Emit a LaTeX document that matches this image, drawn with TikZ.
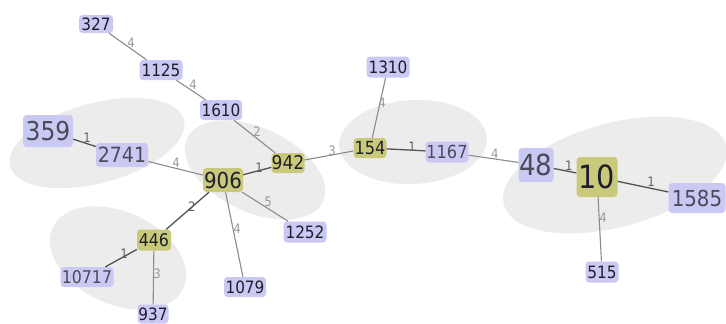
\documentclass[tikz,border=0pt]{standalone}
\usepackage{fontspec}
\setmainfont{DejaVu Sans Condensed}
\usetikzlibrary{calc}
\definecolor{lav}{HTML}{C9C9F3}
\definecolor{olv}{HTML}{C9C97C}
\definecolor{ellg}{HTML}{ECECEC}
\definecolor{txtd}{HTML}{1E1E2C}
\definecolor{txtg}{HTML}{4A4A58}
\tikzset{
  nd/.style n args={3}{font=\fontsize{#1pt}{#1pt}\selectfont, minimum width=#2pt, minimum height=#3pt,
     inner sep=0pt, text height={0.729*#1pt}, text depth=0pt, rounded corners=3.5pt, align=center},
  blue/.style={fill=lav, text=txtd},
  blueg/.style={fill=lav, text=txtg},
  olive/.style={fill=olv, text=txtd},
  edge/.style={draw=black!45, line width=1.1pt},
  edged/.style={draw=black!68, line width=1.3pt},
  lbl/.style={font=\fontsize{13pt}{13pt}\selectfont, text=black!40, inner sep=0pt},
  lbld/.style={font=\fontsize{13pt}{13pt}\selectfont, text=black!62, inner sep=0pt},
  ell/.style={fill=ellg}
}
\begin{document}
\begin{tikzpicture}[x=1pt,y=-1pt]
\useasboundingbox (0,0) rectangle (726,324);
\clip (0,0) rectangle (726,324);
\fill[white] (0,0) rectangle (726,324);
% groups
\fill[ell, rotate around={15:(97,143)}] (97,143) ellipse [x radius=90, y radius=40];
\fill[ell, rotate around={-25:(255,170)}] (255,170) ellipse [x radius=75, y radius=42];
\fill[ell, rotate around={-25:(118,258)}] (118,258) ellipse [x radius=72, y radius=46];
\fill[ell, rotate around={3:(413,142)}] (413,142) ellipse [x radius=74, y radius=42];
\fill[ell, rotate around={15:(615,175)}] (615,175) ellipse [x radius=115, y radius=52];
% nodes
\node[blue, nd={17}{34}{18}] (n327) at (96,24) {327};
\node[blue, nd={17}{43}{20}] (n1125) at (161,70) {1125};
\node[blue, nd={17}{42}{20}] (n1610) at (221,110) {1610};
\node[blueg, nd={26}{50}{32}] (n359) at (48,131) {359};
\node[blueg, nd={21}{52}{24}] (n2741) at (122,155) {2741};
\node[olive, nd={22}{40}{24}] (n906) at (223,180) {906};
\node[olive, nd={19}{33}{20}] (n942) at (288,163) {942};
\node[olive, nd={18}{33}{20}] (n154) at (370,148) {154};
\node[blue, nd={17}{43}{21}] (n1310) at (388,67) {1310};
\node[blueg, nd={18}{43}{21}] (n1167) at (447,152) {1167};
\node[blueg, nd={29}{35}{34}] (n48) at (536,165) {48};
\node[olive, nd={32}{41}{40}] (n10) at (597,177) {10};
\node[blueg, nd={22}{57}{30}] (n1585) at (697,198) {1585};
\node[blue, nd={17}{33}{21}] (n515) at (602,272) {515};
\node[blue, nd={17}{43}{21}] (n1252) at (305,232) {1252};
\node[blue, nd={17}{42}{20}] (n1079) at (245,287) {1079};
\node[olive, nd={17.5}{34}{21}] (n446) at (154,240) {446};
\node[blueg, nd={17.5}{53}{20}] (n10717) at (87,277) {10717};
\node[blue, nd={17}{31}{19}] (n937) at (153,314) {937};
% edges
\draw[edge] (n327) -- (n1125);
\draw[edge] (n1125) -- (n1610);
\draw[edge] (n1610) -- (n942);
\draw[edged] (n359) -- (n2741);
\draw[edge] (n2741) -- (n906);
\draw[edged] (n906) -- (n942);
\draw[edge] (n942) -- (n154);
\draw[edge] (n154) -- (n1310);
\draw[edged] (n154) -- (n1167);
\draw[edge] (n1167) -- (n48);
\draw[edged] (n48) -- (n10);
\draw[edged] (n10) -- (n1585);
\draw[edge] (n10) -- (n515);
\draw[edge] (n906) -- (n1252);
\draw[edge] (n906) -- (n1079);
\draw[edged] (n906) -- (n446);
\draw[edged] (n446) -- (n10717);
\draw[edge] (n446) -- (n937);
% labels
\node[lbl] (l1) at ($(n327)!.497!(n1125)+(2.7,-3.9)$) {4};
\node[lbl] (l2) at ($(n1125)!.485!(n1610)+(2.9,-4.4)$) {4};
\node[lbl] (l3) at ($(n1610)!.49!(n942)+(3.2,-4)$) {2};
\node[lbld] (l4) at ($(n359)!.505!(n2741)+(1.6,-5.1)$) {1};
\node[lbl] (l5) at ($(n2741)!.522!(n906)+(1.3,-5)$) {4};
\node[lbld] (l6) at ($(n906)!.564!(n942)+(-0.6,-2.4)$) {1};
\node[lbl] (l7) at ($(n942)!.545!(n154)+(-0.7,-3.8)$) {3};
\node[lbl] (l8) at ($(n154)!.561!(n1310)+(1.9,0.4)$) {4};
\node[lbld] (l9) at ($(n154)!.543!(n1167)+(0.2,-3.2)$) {1};
\node[lbl] (l10) at ($(n1167)!.531!(n48)+(0.7,-4.9)$) {4};
\node[lbld] (l11) at ($(n48)!.524!(n10)+(1,-5.3)$) {1};
\node[lbld] (l12) at ($(n10)!.527!(n1585)+(1.3,-6)$) {1};
\node[lbl] (l13) at ($(n10)!.434!(n515)+(3.8,-0.2)$) {4};
\node[lbl] (l14) at ($(n906)!.513!(n1252)+(3,-4.7)$) {5};
\node[lbl] (l15) at ($(n906)!.465!(n1079)+(3.8,-0.8)$) {4};
\node[lbld] (l16) at ($(n906)!.45!(n446)+(0,0)$) {2};
\node[lbld] (l17) at ($(n446)!.43!(n10717)+(-1.2,-2)$) {1};
\node[lbl] (l18) at ($(n446)!.46!(n937)+(3.5,0)$) {3};
\end{tikzpicture}
\end{document}
